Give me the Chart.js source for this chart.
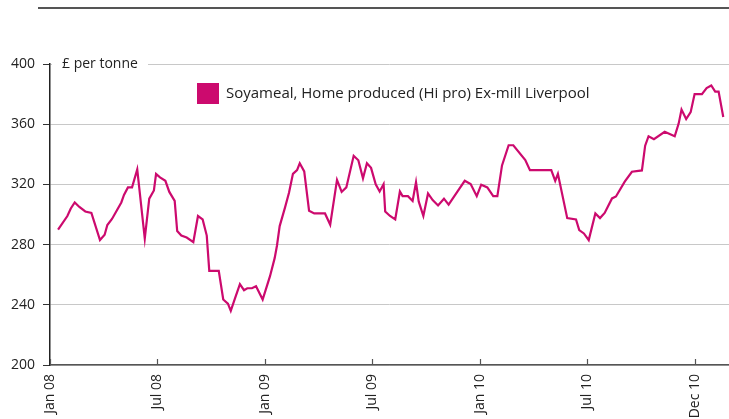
<!DOCTYPE html>
<html>
<head>
<meta charset="utf-8">
<script src="https://cdn.jsdelivr.net/npm/chart.js@4/dist/chart.umd.min.js"></script>
<style>
  html, body { margin: 0; padding: 0; background: #fff; }
  #wrap { width: 729px; height: 419px; position: relative; }
</style>
</head>
<body>
<div id="wrap"><canvas id="c" width="729" height="419"></canvas></div>
<script>
// Months since Jan 2008 (decimal) of each traced point
const xMonths = [0.45,0.97,1.16,1.38,1.64,1.97,2.31,2.79,3.05,3.20,3.46,3.72,3.98,4.13,4.35,4.58,4.87,5.29,5.54,5.80,5.92,
  6.14,6.44,6.66,6.96,7.10,7.33,7.63,8.00,8.26,8.52,8.75,8.89,9.42,9.67,9.93,10.09,10.34,10.60,10.83,11.01,11.27,11.50,11.87,
  12.28,12.54,12.67,12.82,13.12,13.34,13.56,13.79,13.94,14.19,14.46,14.75,15.35,15.64,16.02,16.28,16.54,16.95,17.21,17.47,17.69,17.92,
  18.18,18.40,18.62,18.71,18.98,19.27,19.53,19.68,19.98,20.24,20.43,20.58,20.84,21.10,21.36,21.66,21.99,22.25,22.73,23.15,23.48,23.82,
  24.07,24.41,24.74,24.97,25.23,25.60,25.86,26.53,26.79,27.98,28.20,28.35,28.87,29.36,29.54,29.80,30.07,30.44,30.70,30.96,
  31.37,31.59,32.08,32.48,33.04,33.22,33.41,33.71,34.31,34.87,35.09,35.25,35.51,35.76,35.98,36.39,36.65,36.91,37.13,37.32,37.58];
// £ per tonne
const prices = [290,299,304,308,305,302,301,283,286.5,293,297,302.5,308,313,318,318,330,284,310.5,316,327,
  324.7,322.4,315,309,289,286,284.7,281.6,299,296.7,286,262.6,262.6,243.5,240.8,236,244.8,253.7,249.7,251,251,252.3,243.5,
  259,271,279.4,292.3,304.7,314.5,327,329.5,334,328.6,302.5,300.7,300.7,293.2,323,315,318,339,336,324,334,331,
  320,315.3,320.2,302,299,296.7,315.3,312.2,312.2,309,321.5,308.7,299,314,309.6,306,310.5,306.5,315,322.4,320.2,312.2,
  319.8,318,312.2,312.2,332.6,346,346,336.2,329.5,329.5,322.4,327,297.6,296.7,289.6,287.4,283,300.7,297.6,301,
  310.7,312,321.8,328.4,329.3,345.7,352,350,355,352,360.4,369.7,363.4,368,380,380,384,385.7,381.7,381.7,364.8];
const tickPositions = [0, 6, 12, 18, 24, 30, 36];
const tickLabels = ['Jan 08', 'Jul 08', 'Jan 09', 'Jul 09', 'Jan 10', 'Jul 10', 'Dec 10'];
const yTicks = [200, 240, 280, 320, 360, 400];
const seriesLabel = 'Soyameal, Home produced (Hi pro) Ex-mill Liverpool';
const unitLabel = '£ per tonne';

const LINE_COLOR = '#cc0a6e';
const FONT = '"Open Sans", "Noto Sans", sans-serif';
const TEXT = '#222222';

const points = xMonths.map((m, i) => ({ x: m, y: prices[i] }));

const decor = {
  id: 'decor',
  afterDraw(chart) {
    const ctx = chart.ctx;
    const xs = chart.scales.x, ys = chart.scales.y;
    ctx.save();
    // top rule
    ctx.strokeStyle = '#555';
    ctx.lineWidth = 2;
    ctx.beginPath(); ctx.moveTo(38, 8); ctx.lineTo(729, 8); ctx.stroke();
    // x tick marks (upwards)
    ctx.strokeStyle = '#555';
    ctx.lineWidth = 1.2;
    const yb = ys.getPixelForValue(200);
    tickPositions.forEach(v => {
      const px = Math.round(xs.getPixelForValue(v)) + 0.5;
      ctx.beginPath(); ctx.moveTo(px, yb); ctx.lineTo(px, yb - 6); ctx.stroke();
    });
    // unit label with white background
    const y400 = ys.getPixelForValue(400);
    ctx.fillStyle = '#fff';
    ctx.fillRect(52, y400 - 8, 96, 16);
    ctx.fillStyle = TEXT;
    ctx.font = '14px ' + FONT;
    ctx.textBaseline = 'middle';
    ctx.textAlign = 'left';
    ctx.fillText(unitLabel, 62, y400);
    // legend
    ctx.fillStyle = LINE_COLOR;
    ctx.fillRect(197, 83, 22, 21);
    ctx.fillStyle = TEXT;
    ctx.font = '15px ' + FONT;
    ctx.fillText(seriesLabel, 226, 94);
    ctx.restore();
  }
};

new Chart(document.getElementById('c'), {
  type: 'line',
  data: {
    datasets: [{
      label: seriesLabel,
      data: points,
      borderColor: LINE_COLOR,
      backgroundColor: LINE_COLOR,
      borderWidth: 2.2,
      pointRadius: 0,
      tension: 0,
      fill: false
    }]
  },
  options: {
    responsive: false,
    animation: false,
    devicePixelRatio: 1,
    layout: { padding: { top: 64, right: 0, left: 0, bottom: 0 } },
    plugins: { legend: { display: false }, tooltip: { enabled: false } },
    scales: {
      x: {
        type: 'linear',
        min: 0,
        max: 37.9,
        afterBuildTicks(scale) { scale.ticks = tickPositions.map(v => ({ value: v })); },
        afterFit(scale) { scale.height = 54; },
        grid: { display: false, drawTicks: false },
        border: { display: true, color: '#555', width: 1.5 },
        ticks: {
          autoSkip: false,
          maxRotation: 90,
          minRotation: 90,
          padding: 9,
          color: TEXT,
          font: { family: FONT, size: 14 },
          callback(v) { const i = tickPositions.indexOf(v); return i >= 0 ? tickLabels[i] : ''; }
        }
      },
      y: {
        min: 200,
        max: 400,
        afterBuildTicks(scale) { scale.ticks = yTicks.map(v => ({ value: v })); },
        afterFit(scale) { scale.width = 50; },
        grid: { color: '#c8c8c8', lineWidth: 1, tickColor: '#333', tickLength: 7, drawTicks: true },
        border: { display: true, color: '#222', width: 1.5 },
        ticks: {
          padding: 8,
          color: TEXT,
          font: { family: FONT, size: 14 }
        }
      }
    }
  },
  plugins: [decor]
});
</script>
</body>
</html>
